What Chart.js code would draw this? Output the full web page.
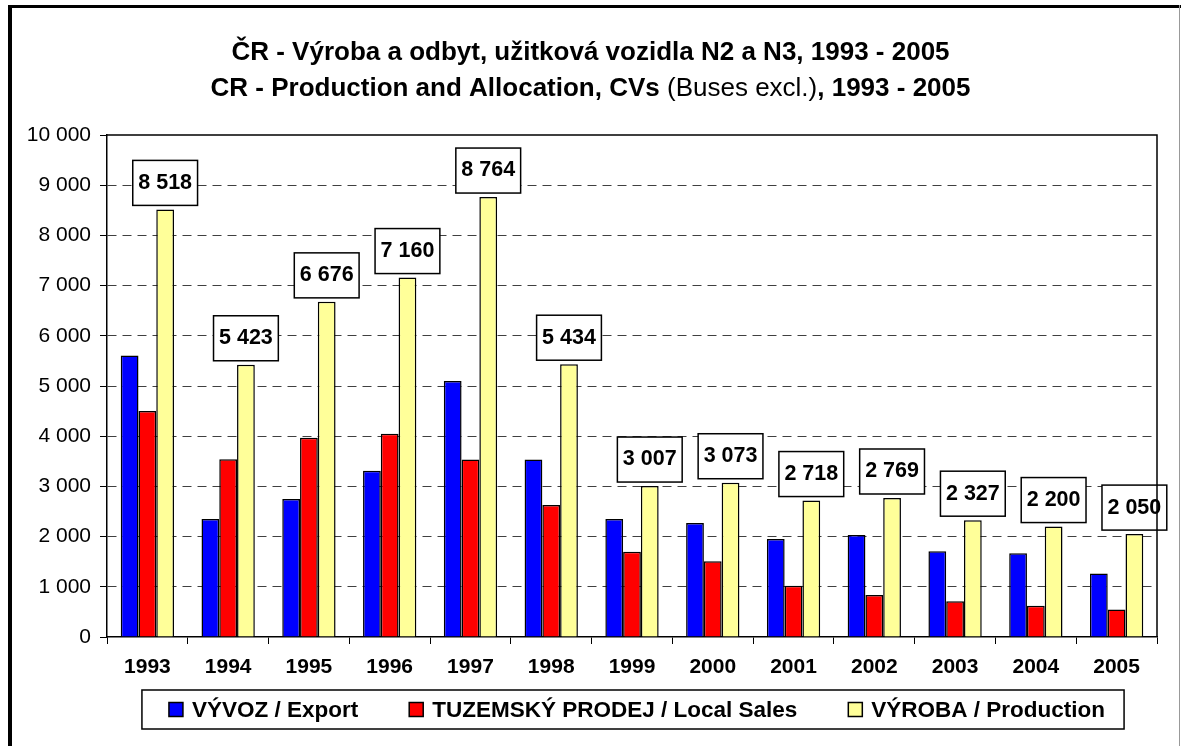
<!DOCTYPE html>
<html>
<head>
<meta charset="utf-8">
<script src="https://cdn.jsdelivr.net/npm/chart.js@4.4.1/dist/chart.umd.min.js"></script>
<style>
  html, body { margin: 0; padding: 0; background: #fff; }
  #wrap { width: 1181px; height: 746px; position: relative; }
</style>
</head>
<body>
<div id="wrap"><canvas id="chart"></canvas></div>
<script>
/* data */
const years = ["1993","1994","1995","1996","1997","1998","1999","2000","2001","2002","2003","2004","2005"];
const exportVals = [5610, 2350, 2750, 3310, 5100, 3535, 2350, 2270, 1950, 2030, 1710, 1670, 1265];
const localVals = [4500, 3540, 3970, 4050, 3535, 2630, 1700, 1510, 1020, 835, 710, 625, 550];
const productionVals = [8518, 5423, 6676, 7160, 8764, 5434, 3007, 3073, 2718, 2769, 2327, 2200, 2050];
const seriesNames = ["VÝVOZ / Export", "TUZEMSKÝ PRODEJ / Local Sales", "VÝROBA / Production"];
const seriesColors = ["#0000FF", "#FF0000", "#FFFF99"];
const yMin = 0, yMax = 10000, yStep = 1000;
const titleLine1 = "ČR - Výroba a odbyt, užitková vozidla N2 a N3, 1993 - 2005";
const titleLine2 = [["CR - Production and Allocation, CVs ", true], ["(Buses excl.)", false], [", 1993 - 2005", true]];

const FONT = '"Liberation Sans", Arial, sans-serif';
Chart.defaults.font.family = FONT;
Chart.defaults.color = "#000";

// "10 000" style numbers
function fmt(v) {
  return String(v).replace(/\B(?=(\d{3})+(?!\d))/g, " ");
}

/* outer frame + two line title */
const framePlugin = {
  id: "frame",
  beforeDraw(chart) {
    const ctx = chart.ctx;
    ctx.save();
    ctx.fillStyle = "#fff";
    ctx.fillRect(0, 0, chart.width, chart.height);
    ctx.fillStyle = "#000";
    ctx.fillRect(8, 5, 4, chart.height - 5);
    ctx.fillRect(8, 5, chart.width - 8, 3);
    ctx.fillStyle = "#999";
    ctx.fillRect(chart.width - 2, 5, 1, chart.height - 5);

    const cx = chart.width / 2;
    ctx.textBaseline = "alphabetic";
    ctx.textAlign = "center";
    ctx.fillStyle = "#000";
    ctx.font = "bold 26px " + FONT;
    ctx.fillText(titleLine1, cx, 60);

    // second line mixes bold and regular
    let total = 0;
    const widths = titleLine2.map(([txt, bold]) => {
      ctx.font = (bold ? "bold " : "") + "26px " + FONT;
      const w = ctx.measureText(txt).width;
      total += w;
      return w;
    });
    let x = cx - total / 2;
    ctx.textAlign = "left";
    titleLine2.forEach(([txt, bold], i) => {
      ctx.font = (bold ? "bold " : "") + "26px " + FONT;
      ctx.fillText(txt, x, 96);
      x += widths[i];
    });
    ctx.restore();
  }
};

/* top and right edges of plot area */
const plotBoxPlugin = {
  id: "plotBox",
  afterDraw(chart) {
    const { ctx, chartArea: a } = chart;
    ctx.save();
    ctx.strokeStyle = "#000";
    ctx.lineWidth = 1.5;
    ctx.beginPath();
    ctx.moveTo(a.left, a.top);
    ctx.lineTo(a.right, a.top);
    ctx.lineTo(a.right, a.bottom);
    ctx.stroke();
    ctx.restore();
  }
};

/* boxed value labels over production bars */
const valueBoxPlugin = {
  id: "valueBoxes",
  afterDatasetsDraw(chart) {
    const ctx = chart.ctx;
    const meta = chart.getDatasetMeta(2);
    ctx.save();
    ctx.font = "bold 21.5px " + FONT;
    ctx.textAlign = "center";
    ctx.textBaseline = "middle";
    meta.data.forEach((bar, i) => {
      const txt = fmt(productionVals[i]);
      const w = ctx.measureText(txt).width + 11;
      const h = 45;
      const bottom = bar.y - 4;
      const left = bar.x - w / 2;
      ctx.fillStyle = "#fff";
      ctx.fillRect(left, bottom - h, w, h);
      ctx.strokeStyle = "#000";
      ctx.lineWidth = 1.5;
      ctx.strokeRect(left, bottom - h, w, h);
      ctx.fillStyle = "#000";
      ctx.fillText(txt, bar.x, bottom - h / 2);
    });
    ctx.restore();
  }
};

/* framed legend under the axis */
const legendPlugin = {
  id: "boxLegend",
  afterDraw(chart) {
    const ctx = chart.ctx;
    const a = chart.chartArea;
    ctx.save();
    ctx.font = "bold 22.5px " + FONT;
    ctx.textBaseline = "middle";
    ctx.textAlign = "left";
    const sq = 14, gapTxt = 9, gapItem = 51;
    const tw = seriesNames.map(n => ctx.measureText(n).width);
    let total = 0;
    tw.forEach((w, i) => { total += sq + gapTxt + w + (i ? gapItem : 0); });
    const cx = (a.left + a.right) / 2 + 5;
    let x = cx - total / 2;
    const yc = 709.5;
    ctx.strokeStyle = "#000";
    ctx.lineWidth = 1.5;
    ctx.fillStyle = "#fff";
    ctx.fillRect(x - 27, 690, total + 46, 39);
    ctx.strokeRect(x - 27, 690, total + 46, 39);
    seriesNames.forEach((n, i) => {
      ctx.fillStyle = seriesColors[i];
      ctx.fillRect(x, yc - sq / 2, sq, sq);
      ctx.lineWidth = 1.5;
      ctx.strokeRect(x, yc - sq / 2, sq, sq);
      ctx.fillStyle = "#000";
      ctx.fillText(n, x + sq + gapTxt, yc + 1);
      x += sq + gapTxt + tw[i] + gapItem;
    });
    ctx.restore();
  }
};

const ctx = document.getElementById("chart").getContext("2d");
new Chart(ctx, {
  type: "bar",
  data: {
    labels: years,
    datasets: [exportVals, localVals, productionVals].map((vals, i) => ({
      label: seriesNames[i],
      data: vals,
      backgroundColor: seriesColors[i],
      borderColor: "#000",
      borderWidth: 1.5,
      categoryPercentage: 0.66,
      barPercentage: 1
    }))
  },
  options: {
    responsive: true,
    maintainAspectRatio: false,
    animation: false,
    devicePixelRatio: 1,
    layout: { padding: { top: 135, left: 27, right: 24, bottom: 66 } },
    plugins: {
      legend: { display: false },
      title: { display: false },
      tooltip: { enabled: false }
    },
    scales: {
      x: {
        grid: { drawOnChartArea: false, drawTicks: true, tickLength: 7, tickColor: "#000", tickWidth: 1, offset: true },
        border: { color: "#000", width: 1.5 },
        ticks: { font: { size: 21, weight: "bold" }, color: "#000", padding: 11, maxRotation: 0 },
        afterFit(scale) { scale.height = 43; }
      },
      y: {
        min: yMin,
        max: yMax,
        ticks: {
          stepSize: yStep,
          font: { size: 21 },
          color: "#000",
          padding: 9,
          callback: v => fmt(v)
        },
        grid: {
          color: c => (c.tick && (c.tick.value === yMin || c.tick.value === yMax)) ? "rgba(0,0,0,0)" : "#404040",
          lineWidth: 1,
          tickLength: 7,
          tickColor: "#000",
          tickWidth: 1
        },
        border: { color: "#000", width: 1.5, dash: [9, 6] },
        afterFit(scale) { scale.width = 80; }
      }
    }
  },
  plugins: [framePlugin, plotBoxPlugin, valueBoxPlugin, legendPlugin]
});
</script>
</body>
</html>
